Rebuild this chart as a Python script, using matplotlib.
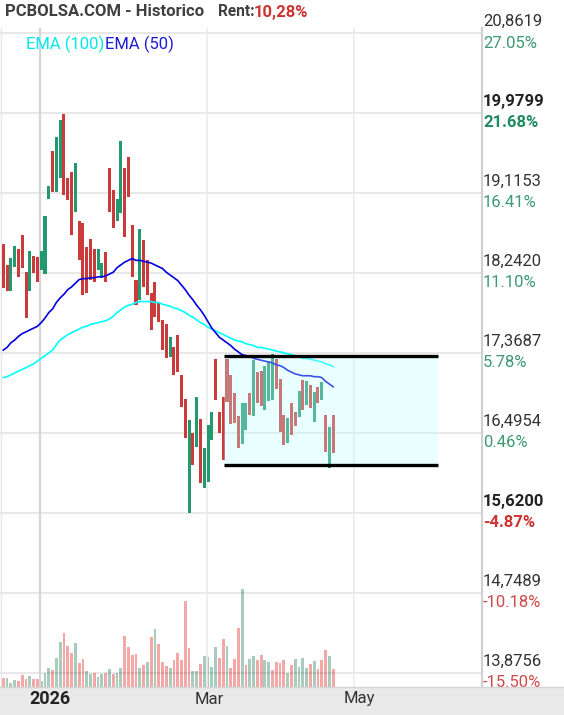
import numpy as np
import matplotlib

matplotlib.use("Agg")
import matplotlib.pyplot as plt
from matplotlib.lines import Line2D
from matplotlib.patches import Rectangle

plt.rcParams["font.family"] = ["Roboto", "DejaVu Sans"]

# daily bars (index 0 = mid December 2025)
highs = [18.56, 18.33, 18.41, 18.54, 18.50, 18.66, 18.25, 18.48, 18.43, 18.42,
         18.48, 18.86, 19.19, 19.57, 19.73, 19.91, 19.98, 19.28, 19.34, 19.44,
         18.81, 18.79, 18.53, 18.61, 18.50, 18.50, 18.35, 18.47, 19.39, 19.15,
         19.05, 19.68, 19.39, 19.51, 18.77, 18.17, 18.72, 18.60, 18.38, 18.02,
         18.14, 17.93, 17.73, 17.69, 17.54, 17.43, 17.56, 17.13, 16.87, 16.64,
         16.50, 16.89, 16.65, 16.33, 16.58, 16.72, 17.30, 16.72, 16.89, 17.30,
         17.13, 16.93, 16.68, 16.82, 16.82, 16.93, 17.29, 17.16, 17.17, 17.23,
         17.28, 17.36, 17.30, 17.09, 16.69, 16.66, 16.82, 16.72, 16.95, 17.07,
         17.06, 17.02, 16.94, 17.00, 17.05, 16.69, 16.56, 16.69]
lows = [18.08, 18.05, 18.05, 18.31, 18.20, 18.30, 17.75, 18.05, 18.24, 18.14,
        18.28, 18.23, 19.05, 19.13, 19.13, 19.28, 19.09, 19.04, 18.66, 18.91,
        18.38, 18.00, 18.02, 18.17, 18.14, 18.28, 18.19, 18.14, 18.91, 18.73,
        18.81, 18.90, 18.63, 19.07, 18.20, 17.89, 17.95, 18.09, 18.00, 17.62,
        17.76, 17.71, 17.40, 17.31, 17.32, 17.13, 17.16, 16.78, 16.44, 15.62,
        16.15, 16.34, 15.95, 15.89, 15.96, 16.42, 16.86, 16.49, 16.20, 16.83,
        16.59, 16.60, 16.33, 16.37, 16.53, 16.69, 16.68, 16.82, 16.79, 16.75,
        16.85, 16.86, 16.98, 16.51, 16.36, 16.39, 16.47, 16.57, 16.67, 16.75,
        16.80, 16.77, 16.62, 16.82, 16.86, 16.29, 16.11, 16.28]
up = [0, 0, 1, 1, 0, 0, 0, 1, 0, 0, 1, 1, 1, 0, 1, 1, 0, 0, 0, 1,
      0, 0, 0, 0, 0, 1, 1, 0, 0, 0, 1, 1, 0, 0, 0, 0, 1, 0, 0, 0,
      0, 0, 0, 0, 1, 0, 0, 0, 0, 1, 0, 1, 0, 1, 1, 1, 0, 0, 0, 0,
      0, 0, 0, 1, 1, 0, 1, 0, 0, 1, 1, 1, 0, 0, 0, 1, 0, 0, 1, 0,
      1, 0, 1, 0, 1, 0, 1, 0]

ema50 = [17.40, 17.43, 17.48, 17.51, 17.55, 17.58, 17.60, 17.62, 17.64, 17.66,
         17.70, 17.75, 17.81, 17.85, 17.92, 17.97, 18.01, 18.06, 18.09, 18.13,
         18.17, 18.18, 18.18, 18.19, 18.19, 18.20, 18.20, 18.21, 18.23, 18.25,
         18.30, 18.33, 18.36, 18.38, 18.40, 18.38, 18.38, 18.37, 18.36, 18.35,
         18.33, 18.31, 18.29, 18.25, 18.22, 18.19, 18.16, 18.11, 18.06, 18.00,
         17.95, 17.89, 17.84, 17.78, 17.71, 17.64, 17.59, 17.54, 17.51, 17.48,
         17.45, 17.41, 17.38, 17.35, 17.34, 17.33, 17.31, 17.30, 17.29, 17.28,
         17.27, 17.26, 17.24, 17.23, 17.21, 17.18, 17.16, 17.14, 17.13, 17.12,
         17.12, 17.12, 17.11, 17.11, 17.10, 17.06, 17.03, 17.00]
ema100 = [17.10, 17.11, 17.13, 17.15, 17.17, 17.19, 17.21, 17.23, 17.25, 17.28,
          17.31, 17.34, 17.37, 17.40, 17.46, 17.51, 17.54, 17.57, 17.59, 17.61,
          17.63, 17.65, 17.66, 17.68, 17.69, 17.70, 17.71, 17.72, 17.74, 17.77,
          17.81, 17.84, 17.87, 17.89, 17.90, 17.92, 17.93, 17.93, 17.93, 17.93,
          17.92, 17.92, 17.90, 17.89, 17.88, 17.86, 17.85, 17.83, 17.81, 17.78,
          17.76, 17.73, 17.70, 17.68, 17.65, 17.63, 17.61, 17.59, 17.57, 17.55,
          17.53, 17.51, 17.50, 17.49, 17.47, 17.46, 17.45, 17.43, 17.43, 17.42,
          17.41, 17.40, 17.39, 17.38, 17.37, 17.36, 17.35, 17.34, 17.33, 17.31,
          17.31, 17.30, 17.29, 17.28, 17.27, 17.25, 17.24, 17.22]

# volume (miles), colour by close vs previous close
volume = [27, 27, 12, 21, 18, 36, 24, 33, 24, 24, 18, 42, 57, 51, 87, 135, 162,
          123, 102, 132, 72, 84, 48, 39, 42, 30, 39, 42, 54, 39, 42, 57, 153,
          120, 96, 99, 57, 66, 75, 150, 174, 129, 75, 63, 57, 81, 102, 81, 258,
          117, 48, 48, 69, 93, 90, 60, 120, 87, 144, 123, 57, 84, 177, 294, 66,
          84, 93, 81, 96, 81, 75, 51, 75, 72, 81, 42, 66, 84, 60, 87, 57, 69,
          78, 54, 81, 111, 93, 54]
vol_up = [0, 1, 1, 1, 0, 0, 0, 1, 0, 0, 1, 1, 1, 0, 1, 1, 0, 0, 0, 1,
          0, 0, 1, 1, 0, 1, 1, 0, 1, 0, 1, 1, 0, 0, 0, 0, 1, 0, 1, 0,
          1, 0, 0, 0, 1, 0, 0, 0, 0, 0, 1, 1, 0, 1, 1, 1, 1, 0, 0, 1,
          0, 0, 0, 1, 0, 1, 1, 0, 0, 1, 1, 0, 0, 0, 0, 1, 0, 1, 1, 1,
          1, 0, 1, 0, 0, 0, 1, 0]

# channel drawn by the user
box_start, box_end = 58.2, 114.6
box_bottom, box_top = 16.146, 17.336

# axis levels and labels
levels = [13.8756, 14.7489, 15.6222, 16.4954, 17.3687, 18.2420, 19.1153,
          19.9886, 20.8619]
price_labels = ["13,8756", "14,7489", "15,6200", "16,4954", "17,3687",
                "18,2420", "19,1153", "19,9799", "20,8619"]
pct_labels = ["-15.50%", "-10.18%", "-4.87%", "0.46%", "5.78%", "11.10%",
              "16.41%", "21.68%", "27.05%"]
bold_levels = [2, 7]
date_lines = [9.68, 53.7, 92.6]
date_labels = ["2026", "Mar", "May"]
date_label_pos = [12.3, 54.2, 93.8]

W, H = 564, 715
RED, GREEN = "#cc3b3b", "#22996e"

fig = plt.figure(figsize=(W / 100, H / 100), dpi=100)
fig.patch.set_facecolor("white")

ax_vol = fig.add_axes([0, 28 / H, 481 / W, 98 / H])
ax = fig.add_axes([0, 28 / H, 481 / W, 659 / H])
ax.patch.set_visible(False)
for a in (ax, ax_vol):
    a.set_xlim(-0.87, 126.0)
    a.set_xticks([])
    a.set_yticks([])
    for s in a.spines.values():
        s.set_visible(False)
ax.set_ylim(13.7224, 20.9165)
ax_vol.set_ylim(0, 294)

idx = np.arange(len(highs))
hi = np.array(highs)
lo = np.array(lows)
up_arr = np.array(up, dtype=bool)

ax_vol.bar(idx, volume, width=0.74,
           color=["#a9cbbd" if u else "#f3a8a7" for u in vol_up], linewidth=0)

# grid
for lv in levels:
    ax.axhline(lv, color="black", alpha=0.09, lw=1.5, zorder=1)
ax.axvline(date_lines[0], color="#d6d6d6", lw=1.6, zorder=1)
for d in date_lines[1:]:
    ax.axvline(d, color="#ebebeb", lw=1.2, zorder=1)
ax.axvline(-0.6, color="#e6e6e6", lw=1.0, zorder=1)

ax.bar(idx, hi - lo, bottom=lo, width=0.8,
       color=[GREEN if u else RED for u in up_arr], linewidth=0, zorder=2)

ax.plot(idx, ema100, color="#00ffff", lw=1.2, zorder=3)
ax.plot(idx, ema50, color="#0000e0", lw=1.2, zorder=3)

ax.add_patch(Rectangle((box_start, box_bottom), box_end - box_start,
                       box_top - box_bottom, facecolor=(0.75, 1, 1),
                       alpha=0.32, linewidth=0, zorder=4))
for yv in (box_top, box_bottom):
    ax.plot([box_start, box_end], [yv, yv], color="black", lw=2.4,
            solid_capstyle="butt", zorder=5)

# right price / percent labels
for i, lv in enumerate(levels):
    bold = i in bold_levels
    up_pct = not pct_labels[i].startswith("-")
    pcol = ("#1e8a5e" if bold else "#3d9a72") if up_pct else ("#cc3333" if bold else "#d24848")
    ax.annotate(price_labels[i], xy=(483 / 481, lv),
                xycoords=("axes fraction", "data"), xytext=(0, 8.6),
                textcoords="offset points", ha="left", va="center",
                fontsize=12, color="#222222" if bold else "#333333",
                fontweight="bold" if bold else "normal", annotation_clip=False)
    ax.annotate(pct_labels[i], xy=(483 / 481, lv),
                xycoords=("axes fraction", "data"), xytext=(0, -7.2),
                textcoords="offset points", ha="left", va="center",
                fontsize=12, color=pcol,
                fontweight="bold" if bold else "normal", annotation_clip=False)

# right axis line and bottom band
fig.add_artist(Line2D([481.5 / W] * 2, [28 / H, 687 / H], color="#d0d0d0",
                      lw=1.5, transform=fig.transFigure, zorder=5))
fig.add_artist(Rectangle((0, 0), 1, 28 / H, transform=fig.transFigure,
                         facecolor="#e9e9e9", edgecolor="none", zorder=6))
fig.add_artist(Line2D([0, 1], [28 / H, 28 / H], color="#d4d4d4", lw=1,
                      transform=fig.transFigure, zorder=6))

for lab, pos in zip(date_labels, date_label_pos):
    x_fig = (pos + 0.87) / 126.87 * 481 / W
    fig.text(x_fig, 1 - 699 / H, lab, ha="center", va="center",
             fontsize=13 if lab == "2026" else 12,
             fontweight="bold" if lab == "2026" else "normal",
             color="#222222" if lab == "2026" else "#333333", zorder=7)

# title and legend
fig.text(5 / W, 1 - 12 / H, "PCBOLSA.COM - Historico", fontsize=12,
         fontweight="bold", color="#404040", va="center", ha="left")
fig.text(218 / W, 1 - 12 / H, "Rent:", fontsize=11.2, fontweight="bold",
         color="#404040", va="center", ha="left")
fig.text(254 / W, 1 - 12 / H, "10,28%", fontsize=12, fontweight="bold",
         color="#cc3333", va="center", ha="left")
fig.text(26 / W, 1 - 44 / H, "EMA (100)", fontsize=12, color="#00e8f0",
         va="center", ha="left")
fig.text(105 / W, 1 - 44 / H, "EMA (50)", fontsize=12, color="#1c1cd8",
         va="center", ha="left")

fig.savefig("out.png", dpi=100)
